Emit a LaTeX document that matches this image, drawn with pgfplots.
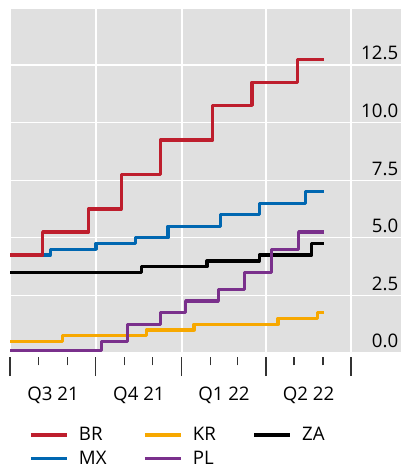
\documentclass[border=0pt]{standalone}
\usepackage{fontspec}
\setmainfont{Open Sans}
\usepackage{pgfplots}
\pgfplotsset{compat=1.18}
\definecolor{cBR}{RGB}{190,30,45}
\definecolor{cMX}{RGB}{0,103,177}
\definecolor{cKR}{RGB}{247,168,0}
\definecolor{cPL}{RGB}{122,48,140}
\definecolor{bg}{RGB}{224,224,224}
\begin{document}
\begin{tikzpicture}
\begin{axis}[
  name=ax,
  scale only axis,
  width=293.25pt, height=258pt,
  xmin=0, xmax=418.5,
  ymin=0, ymax=14.93,
  axis background/.style={fill=bg},
  axis line style={draw=none},
  grid=major,
  major grid style={white, line width=1pt},
  xtick={0,92,184,274,365},
  xticklabels={},
  minor xtick={31,62,123,153,215,243,304,335},
  xtick pos=bottom,
  tick align=outside,
  major tick length=14.25pt, minor tick length=6.25pt,
  xtick style={yshift=-3pt, line width=0.8pt, black!80},
  ytick={0,2.5,5,7.5,10,12.5},
  ytick style={draw=none},
  yticklabel pos=right,
  yticklabel={\pgfmathprintnumber[fixed,fixed zerofill,precision=1]{\tick}},
  yticklabel style={anchor=base east, inner xsep=0pt, xshift=-16.15pt, yshift=3.75pt},
  /pgf/number format/assume math mode=true,
  tick label style={font=\fontsize{14}{16}\selectfont},
  extra x ticks={46,138,229,319.5},
  extra x tick labels={Q3 21,Q4 21,Q1 22,Q2 22},
  extra x tick style={grid=none, major tick length=0pt, tick style={draw=none},
     xticklabel style={anchor=base, yshift=-35.75pt}},
  legend columns=3,
  legend style={draw=none, fill=none, at={(0,0)}, anchor=north west,
     xshift=14.25pt, yshift=-55.5pt, inner sep=0pt,
     font=\fontsize{14}{16}\selectfont,
     nodes={inner sep=0pt},
     row sep=6.25pt,
     /tikz/every odd column/.append style={column sep=7.75pt},
     /tikz/every even column/.append style={column sep=27.5pt}},
  legend cell align=left,
  legend image code/.code={\draw[#1, line width=2.5pt] (0pt,0pt) -- (27pt,0pt);},
]
\addlegendimage{cBR, line width=2.5pt}\addlegendentry{BR}
\addlegendimage{cKR, line width=2.5pt}\addlegendentry{KR}
\addlegendimage{black, line width=2.5pt}\addlegendentry{ZA}
\addlegendimage{cMX, line width=2.5pt}\addlegendentry{MX}
\addlegendimage{cPL, line width=2.5pt}\addlegendentry{PL}

\addplot[cMX, line width=2.5pt, const plot, line join=round, forget plot] coordinates {(0,4.25)(43,4.5)(92,4.75)(134,5)(169,5.5)(225,6)(267,6.5)(316,7)(336,7)};
\addplot[cKR, line width=2.5pt, const plot, line join=round, forget plot] coordinates {(0,0.5)(56,0.75)(146,1)(197,1.25)(287,1.5)(329,1.75)(336,1.75)};
\addplot[black, line width=2.5pt, const plot, line join=round, forget plot] coordinates {(0,3.5)(141,3.75)(211,4)(267,4.25)(323,4.75)(336,4.75)};
\addplot[cPL, line width=2.5pt, const plot, line join=round, forget plot] coordinates {(0,0.1)(98,0.5)(126,1.25)(161,1.75)(188,2.25)(223,2.75)(251,3.5)(280,4.5)(309,5.25)(336,5.25)};
\addplot[cBR, line width=2.5pt, const plot, line join=round, forget plot] coordinates {(0,4.25)(35,5.25)(84,6.25)(119,7.75)(161,9.25)(217,10.75)(259,11.75)(308,12.75)(336,12.75)};
\end{axis}
\pgfresetboundingbox
\path ([shift={(-7.5pt,-87pt)}]ax.south west) rectangle ([yshift=6.75pt]ax.north east);
\end{tikzpicture}
\end{document}
